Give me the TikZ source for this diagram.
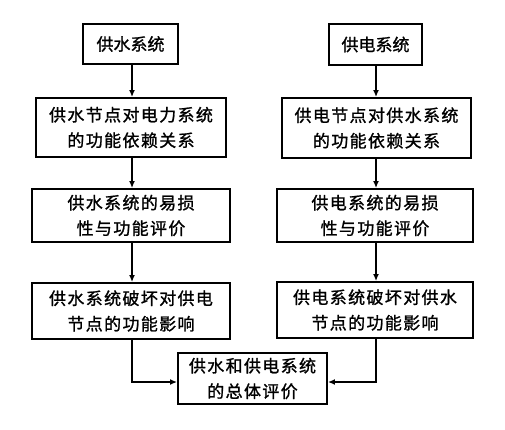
\documentclass[tikz,border=0pt]{standalone}
\usepackage{fontspec}
\newfontfamily\cjk[FakeBold=1.2]{Noto Sans CJK SC}
\newfontfamily\cjksp[LetterSpace=8,FakeBold=1.2]{Noto Sans CJK SC}
\usetikzlibrary{arrows.meta}
\begin{document}
\begin{tikzpicture}[x=1pt,y=-1pt,
  box/.style={draw,line width=1.9pt,inner sep=0pt,align=center,
    font=\cjksp\fontsize{17}{25.5}\selectfont},
  topbox/.style={box,font=\cjk\fontsize{17}{20}\selectfont},
  arr/.style={line width=1.6pt,-{Latex[length=7pt,width=6pt]}}]
\useasboundingbox (0,0) rectangle (505,429);
\node[topbox,minimum width=95pt,minimum height=40pt] (L1) at (130.5,44) {供水系统};
\node[box,minimum width=190pt,minimum height=59pt] (L2) at (131,127.5) {供水节点对电力系统\\的功能依赖关系};
\node[box,minimum width=198pt,minimum height=53pt] (L3) at (131,215.5) {供水系统的易损\\性与功能评价};
\node[box,minimum width=198pt,minimum height=56pt] (L4) at (131,311) {供水系统破坏对供电\\节点的功能影响};
\node[topbox,minimum width=93pt,minimum height=41pt] (R1) at (375.5,44.5) {供电系统};
\node[box,minimum width=189pt,minimum height=60pt] (R2) at (376.5,128) {供电节点对供水系统\\的功能依赖关系};
\node[box,minimum width=196pt,minimum height=53pt] (R3) at (375,215.5) {供电系统的易损\\性与功能评价};
\node[box,minimum width=196pt,minimum height=56pt] (R4) at (375,310) {供电系统破坏对供水\\节点的功能影响};
\node[box,minimum width=149pt,minimum height=51pt] (B5) at (252.5,378.5) {供水和供电系统\\的总体评价};
\coordinate (cl) at (132,382);
\coordinate (cr) at (376,382);
\draw[arr] (L1.south -| 132,0) -- (L2.north -| 132,0);
\draw[arr] (L2.south -| 132,0) -- (L3.north -| 132,0);
\draw[arr] (L3.south -| 132,0) -- (L4.north -| 132,0);
\draw[arr] (L4.south -| cl) -- (cl) -- (cl -| B5.west);
\draw[arr] (R1.south -| 376,0) -- (R2.north -| 376,0);
\draw[arr] (R2.south -| 376,0) -- (R3.north -| 376,0);
\draw[arr] (R3.south -| 376,0) -- (R4.north -| 376,0);
\draw[arr] (R4.south -| cr) -- (cr) -- (cr -| B5.east);
\end{tikzpicture}
\end{document}
